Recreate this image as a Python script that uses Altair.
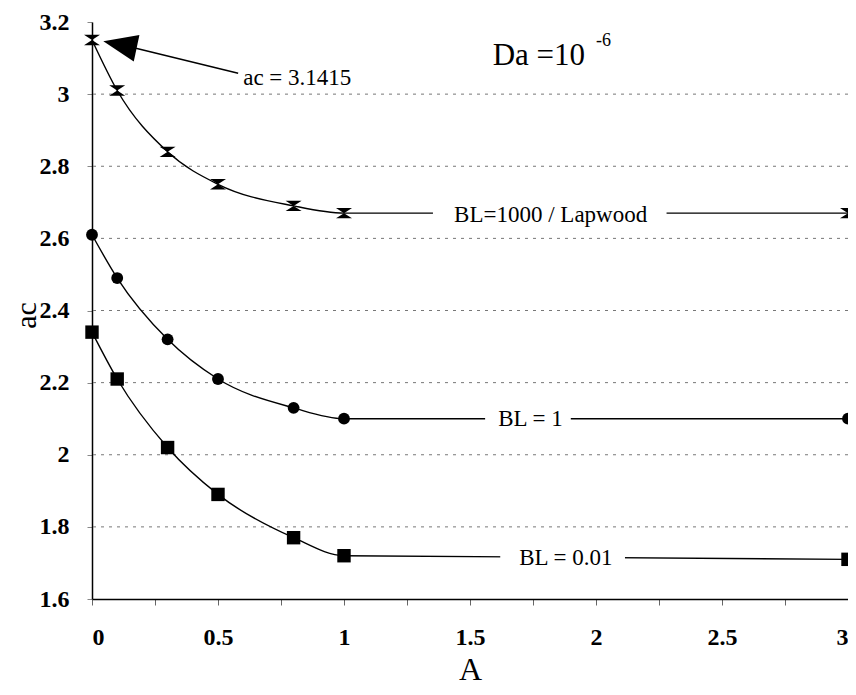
import altair as alt
import pandas as pd

# ---- data ----
A_vals = [0, 0.1, 0.3, 0.5, 0.8, 1, 3]
bl1000 = [3.15, 3.01, 2.84, 2.75, 2.69, 2.67, 2.67]
bl1 = [2.61, 2.49, 2.32, 2.21, 2.13, 2.10, 2.10]
bl001 = [2.34, 2.21, 2.02, 1.89, 1.77, 1.72, 1.71]
series_names = ["BL=1000 / Lapwood", "BL = 1", "BL = 0.01"]

grid_vals = [1.8, 2.0, 2.2, 2.4, 2.6, 2.8, 3.0]
y_ticks = [round(1.6 + 0.1 * i, 1) for i in range(17)]
x_ticks = [0.25 * i for i in range(13)]

# in-line labels (text, x centre, y, gap start, gap end)
lab_text = ["BL=1000 / Lapwood", "BL = 1", "BL =  0.01"]
lab_x = [1.82, 1.74, 1.88]
lab_y = [2.665, 2.10, 1.715]
lab_x0 = [1.353, 1.56, 1.62]
lab_x1 = [2.28, 1.90, 2.115]

# annotation
arrow_x = [0.17, 0.58]
arrow_y = [3.128, 3.058]
head_x = [0.111]
head_y = [3.137]
ann_text = ["ac = 3.1415"]
ann_x = [0.6]
ann_y = [3.044]

rows = []
for name, vals in zip(series_names, [bl1000, bl1, bl001]):
    for a, v in zip(A_vals, vals):
        rows.append({"A": a, "ac": v, "series": name})
df = pd.DataFrame(rows)

xs = alt.Scale(domain=[0, 3], nice=False, zero=False)
ys = alt.Scale(domain=[1.6, 3.2], nice=False, zero=False)

FONT = "'Liberation Serif', 'Times New Roman', 'DejaVu Serif', serif"

x_axis = alt.Axis(
    values=x_ticks,
    labelExpr="abs(datum.value*2 - round(datum.value*2)) < 0.001 ? format(datum.value, '.1~f') : ''",
    title="A", titleFontSize=32, titleFont=FONT, titleFontWeight="normal",
    titleColor="black", titleX=378, titleY=70, titleBaseline="middle",
    labelFont=FONT, labelFontSize=24, labelFontWeight="bold", labelColor="black",
    labelPadding=20, tickSize=6, tickColor="#666", domainColor="black",
    domainWidth=1.5, grid=False,
)
y_axis = alt.Axis(
    values=y_ticks,
    labelExpr="round(datum.value*10) % 2 == 0 ? format(datum.value, '.1~f') : ''",
    title="ac", titleFontSize=30, titleFont=FONT, titleFontWeight="normal",
    titleColor="black", titleX=-66, titleY=293, titleBaseline="middle",
    titleAngle=270, titleAlign="center",
    labelFont=FONT, labelFontSize=24, labelFontWeight="bold", labelColor="black",
    labelPadding=18, tickSize=5, tickColor="#888", domainColor="black",
    domainWidth=1.5, grid=False,
)

base_axes = alt.Chart(df).mark_point(opacity=0).encode(
    x=alt.X("A:Q", scale=xs, axis=x_axis),
    y=alt.Y("ac:Q", scale=ys, axis=y_axis),
)

grid = alt.Chart(pd.DataFrame({"g": grid_vals})).mark_rule(
    color="#777", strokeDash=[3, 5], strokeWidth=1
).encode(y=alt.Y("g:Q", scale=ys))

lines = alt.Chart(df).mark_line(color="black", strokeWidth=1.4, interpolate="monotone").encode(
    x=alt.X("A:Q", scale=xs),
    y=alt.Y("ac:Q", scale=ys),
    detail="series:N",
)

labdf = pd.DataFrame({"t": lab_text, "x": lab_x, "y": lab_y, "x0": lab_x0, "x1": lab_x1})
labdf["y0"] = labdf["y"] - 0.035
labdf["y1"] = labdf["y"] + 0.035
lab_bg = alt.Chart(labdf).mark_rect(color="white").encode(
    x=alt.X("x0:Q", scale=xs), x2="x1:Q",
    y=alt.Y("y0:Q", scale=ys), y2="y1:Q",
)
lab_txt = alt.Chart(labdf).mark_text(font=FONT, fontSize=23, color="black", baseline="middle").encode(
    x=alt.X("x:Q", scale=xs), y=alt.Y("y:Q", scale=ys), text="t:N"
)

hour = "M-1,-0.65L1,-0.65L0,0L1,0.65L-1,0.65L0,0Z"
pts1 = alt.Chart(df[df.series == series_names[0]]).mark_point(
    shape=hour, filled=True, color="black", size=256, opacity=1
).encode(x=alt.X("A:Q", scale=xs), y=alt.Y("ac:Q", scale=ys))
pts2 = alt.Chart(df[df.series == series_names[1]]).mark_point(
    shape="circle", filled=True, color="black", size=140, opacity=1
).encode(x=alt.X("A:Q", scale=xs), y=alt.Y("ac:Q", scale=ys))
pts3 = alt.Chart(df[df.series == series_names[2]]).mark_point(
    shape="square", filled=True, color="black", size=180, opacity=1
).encode(x=alt.X("A:Q", scale=xs), y=alt.Y("ac:Q", scale=ys))

arrow = alt.Chart(pd.DataFrame({"x": arrow_x, "y": arrow_y})).mark_line(
    color="black", strokeWidth=1.4
).encode(x=alt.X("x:Q", scale=xs), y=alt.Y("y:Q", scale=ys))
head = alt.Chart(pd.DataFrame({"x": head_x, "y": head_y})).mark_point(
    shape="M-1,0L1,-0.8L1,0.8Z", filled=True, color="black", size=1156, angle=12, opacity=1
).encode(x=alt.X("x:Q", scale=xs), y=alt.Y("y:Q", scale=ys))
ann = alt.Chart(pd.DataFrame({"t": ann_text, "x": ann_x, "y": ann_y})).mark_text(
    font=FONT, fontSize=23, color="black", align="left", baseline="middle"
).encode(x=alt.X("x:Q", scale=xs), y=alt.Y("y:Q", scale=ys), text="t:N")

da_df = pd.DataFrame({"t": ["Da =10"], "x": [1.59], "y": [3.105]})
da = alt.Chart(da_df).mark_text(
    font=FONT, fontSize=31, color="black", align="left", baseline="middle"
).encode(x=alt.X("x:Q", scale=xs), y=alt.Y("y:Q", scale=ys), text="t:N")
sup_df = pd.DataFrame({"t": ["-6"], "x": [2.0], "y": [3.146]})
sup = alt.Chart(sup_df).mark_text(
    font=FONT, fontSize=18, color="black", align="left", baseline="middle"
).encode(x=alt.X("x:Q", scale=xs), y=alt.Y("y:Q", scale=ys), text="t:N")

chart = alt.layer(
    base_axes, grid, lines, lab_bg, lab_txt, pts1, pts2, pts3, arrow, head, ann, da, sup
).properties(
    width=756, height=577,
    autosize=alt.AutoSizeParams(type="none"),
    padding={"left": 84, "top": 14, "right": 0, "bottom": 88},
    background="white",
).configure_view(stroke=None)

chart.save("out.html", embed_options={"renderer": "svg", "actions": False})
